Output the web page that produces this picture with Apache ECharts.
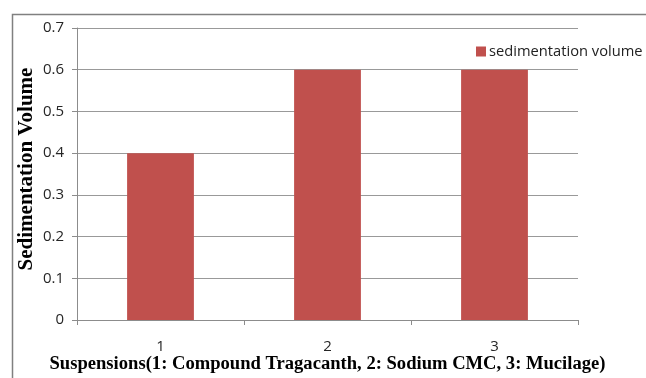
<!DOCTYPE html>
<html>
<head>
<meta charset="utf-8">
<script src="https://cdn.jsdelivr.net/npm/echarts@6/dist/echarts.min.js"></script>
<style>html,body{margin:0;padding:0;background:#fff;}#c{width:646px;height:378px;}</style>
</head>
<body>
<div id="c"></div>
<script>
var categories = ['1', '2', '3'];
var seriesName = 'sedimentation volume';
var values = [0.4, 0.6, 0.6];
var yTicks = { min: 0, max: 0.7, interval: 0.1 };
var xTitle = 'Suspensions(1: Compound Tragacanth, 2: Sodium CMC, 3: Mucilage)';
var yTitle = 'Sedimentation Volume';

var chart = echarts.init(document.getElementById('c'), null, { renderer: 'canvas' });
chart.setOption({
  animation: false,
  backgroundColor: '#fff',
  graphic: [{
    type: 'rect', left: 10, top: 12, silent: true,
    shape: { width: 700, height: 400 },
    style: { fill: 'none', stroke: '#808080', lineWidth: 1.5 }
  }],
  grid: { left: 77, right: 68, top: 28, bottom: 58, containLabel: false, outerBoundsMode: 'none' },
  legend: {
    left: 471, top: 39, itemWidth: 10, itemHeight: 10, itemGap: 4,
    icon: 'rect',
    textStyle: { fontFamily: 'Open Sans', fontSize: 14.7, color: '#222', padding: [0, 0, 0, -2] },
    data: [seriesName]
  },
  xAxis: {
    type: 'category', data: categories,
    name: xTitle, nameLocation: 'middle', nameGap: 35, nameMoveOverlap: false,
    nameTextStyle: { fontFamily: 'Liberation Serif', fontWeight: 'bold', fontSize: 18.6, color: '#000' },
    axisLine: { lineStyle: { color: '#8c8c8c', width: 1 } },
    axisTick: { show: true, length: 5, alignWithLabel: false, lineStyle: { color: '#8c8c8c' } },
    axisLabel: { fontFamily: 'Open Sans', fontSize: 15, color: '#262626', margin: 19 }
  },
  yAxis: {
    type: 'value', min: yTicks.min, max: yTicks.max, interval: yTicks.interval,
    name: yTitle, nameLocation: 'middle', nameGap: 40, nameRotate: 90, nameMoveOverlap: false,
    nameTextStyle: { fontFamily: 'Liberation Serif', fontWeight: 'bold', fontSize: 21, color: '#000', padding: [0, 0, 0, 10] },
    axisLine: { show: true, lineStyle: { color: '#8c8c8c', width: 1 } },
    axisTick: { show: true, length: 5, inside: false, lineStyle: { color: '#8c8c8c' } },
    axisLabel: { fontFamily: 'Open Sans', fontSize: 15, color: '#262626', margin: 13,
      formatter: function (v) { return v === 0 ? '0' : v.toFixed(1); } },
    splitLine: { lineStyle: { color: '#999', width: 1 } }
  },
  series: [{
    name: seriesName, type: 'bar', data: values,
    barWidth: '40%',
    itemStyle: { color: '#C0504D' }
  }]
});
</script>
</body>
</html>
